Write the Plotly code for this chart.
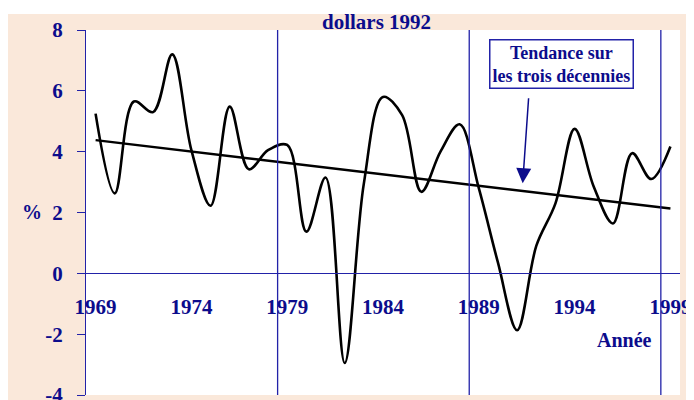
import plotly.graph_objects as go

# ---- data ----
years = list(range(1969, 2000))
growth = [5.25, 2.63, 5.65, 5.30, 7.20, 4.05, 2.22, 5.48, 3.42, 4.05,
          4.22, 1.37, 3.15, -2.95, 2.95, 5.80, 5.20, 2.68, 4.00, 4.90,
          2.80, 0.35, -1.87, 0.90, 2.30, 4.75, 2.85, 1.64, 3.95, 3.10, 4.17]
trend_years = [1969, 1999]
trend_values = [4.38, 2.13]
x_tick_years = [1969, 1974, 1979, 1984, 1989, 1994, 1999]
x_tick_text = [str(y) for y in x_tick_years]
y_ticks = [-4, -2, 0, 2, 4, 6, 8]
y_tick_text = [str(v) for v in y_ticks]
divider_years = [1978.5, 1988.5, 1998.5]
arrow_tip = (1991.29, 2.96)

NAVY = "#0c0c8c"
LINE = "#2222a8"
PEACH = "#FAE8DA"
FONT = "Liberation Serif"

fig = go.Figure()
fig.add_trace(go.Scatter(x=years, y=growth, mode="lines",
                         line=dict(color="black", width=2.6, shape="spline", smoothing=1.0),
                         hoverinfo="skip", showlegend=False))
fig.add_trace(go.Scatter(x=trend_years, y=trend_values, mode="lines",
                         line=dict(color="black", width=2.4),
                         hoverinfo="skip", showlegend=False))

shapes = []
for xv in divider_years:
    shapes.append(dict(type="line", xref="x", yref="paper", x0=xv, x1=xv, y0=0, y1=1,
                       line=dict(color=LINE, width=1.3), layer="above"))
# white page strip at top
shapes.append(dict(type="rect", xref="paper", yref="paper", x0=-0.3, x1=1.3,
                   y0=(395 - 14) / 365, y1=1.3, fillcolor="white", line=dict(width=0), layer="above"))

tick_font = dict(family=FONT, size=21, color=NAVY, weight="bold")

annotations = [
    dict(text="dollars 1992", xref="paper", yref="paper", x=(376 - 86) / 594, y=1,
         xanchor="center", yanchor="bottom", yshift=-6, showarrow=False,
         font=dict(family=FONT, size=21, color=NAVY, weight="bold")),
    dict(text="%", xref="paper", yref="paper", x=(32 - 86) / 594, y=(395 - 212) / 365,
         xanchor="center", yanchor="middle", showarrow=False,
         font=dict(family=FONT, size=20, color=NAVY, weight="bold")),
    dict(text="Année", xref="paper", yref="paper", x=(624 - 86) / 594, y=(395 - 340) / 365,
         xanchor="center", yanchor="middle", showarrow=False,
         font=dict(family=FONT, size=20, color=NAVY, weight="bold")),
    dict(text="Tendance sur<br>les trois décennies", xref="paper", yref="paper",
         x=(561.5 - 86) / 594, y=(395 - 63.8) / 365, xanchor="center", yanchor="middle",
         showarrow=False, bgcolor="white", bordercolor=LINE, borderwidth=1.5, borderpad=2,
         font=dict(family=FONT, size=18, color=NAVY, weight="bold")),
    dict(text=" ", xref="x", yref="y", x=arrow_tip[0], y=arrow_tip[1],
         ax=6.6, ay=-95, showarrow=True, arrowhead=2, arrowsize=2.0, arrowwidth=1.5,
         arrowcolor=NAVY, standoff=0),
]

fig.update_layout(
    width=686, height=392,
    margin=dict(l=78, r=14, t=22, b=5),
    paper_bgcolor=PEACH, plot_bgcolor="white",
    showlegend=False,
    shapes=shapes, annotations=annotations,
    xaxis=dict(range=[1968.5, 1999.5], anchor="free", position=4 / 12,
               tickmode="array", tickvals=x_tick_years, ticktext=x_tick_text,
               showline=True, linecolor=LINE, linewidth=1.3,
               ticks="", showgrid=False, zeroline=False, tickfont=tick_font,
               ticklabelstandoff=14, automargin=False, ticklabeloverflow="allow"),
    yaxis=dict(range=[-4, 8], tickmode="array", tickvals=y_ticks, ticktext=y_tick_text,
               showline=True, linecolor=LINE, linewidth=1.3,
               ticks="outside", ticklen=8, tickwidth=1.3, tickcolor=LINE,
               showgrid=False, zeroline=False, tickfont=tick_font,
               ticklabelstandoff=10, automargin=False, ticklabeloverflow="allow"),
)

fig.write_html("out.html")
